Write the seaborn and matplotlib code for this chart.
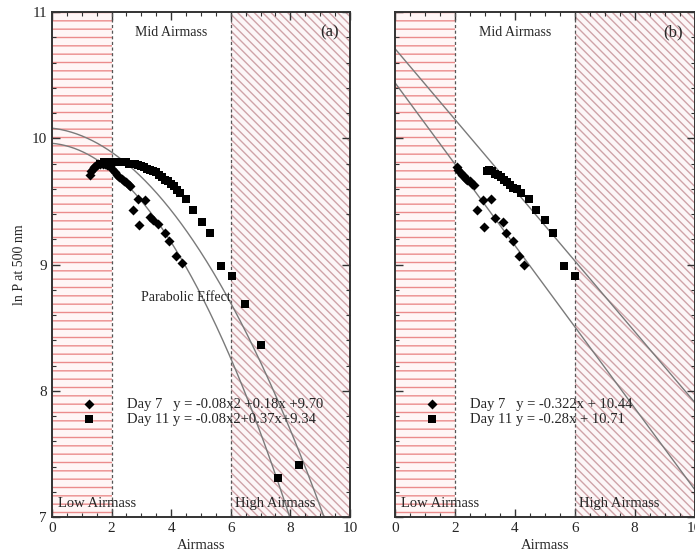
import numpy as np
import pandas as pd
import matplotlib
matplotlib.use("Agg")
import matplotlib.pyplot as plt
import seaborn as sns

# ---------------- data ----------------
# Panel (a): Day 7 (diamonds) and Day 11 (squares)
a_day7_x = [1.28, 1.32, 1.36, 1.40, 1.45, 1.50, 1.56, 1.62, 1.70, 1.78, 1.86, 1.94, 2.02, 2.10,
            2.18, 2.26, 2.34, 2.42, 2.50, 2.58, 2.62, 2.73, 2.90, 2.93, 3.12, 3.29, 3.40, 3.57,
            3.79, 3.94, 4.16, 4.35]
a_day7_y = [9.71, 9.74, 9.76, 9.77, 9.78, 9.79, 9.80, 9.80, 9.80, 9.80, 9.79, 9.78, 9.76, 9.73,
            9.71, 9.69, 9.68, 9.66, 9.65, 9.63, 9.62, 9.43, 9.52, 9.31, 9.51, 9.38, 9.35, 9.32,
            9.25, 9.19, 9.07, 9.01]
a_day11_x = [1.62, 1.75, 1.90, 2.00, 2.10, 2.20, 2.30, 2.40, 2.50, 2.60, 2.70, 2.80, 2.90, 3.00,
             3.10, 3.20, 3.30, 3.40, 3.50, 3.60, 3.70, 3.80, 3.90, 4.00, 4.10, 4.20, 4.30, 4.49,
             4.74, 5.02, 5.30, 5.66, 6.03, 6.48, 7.00, 7.60, 8.30]
a_day11_y = [9.80, 9.81, 9.81, 9.81, 9.81, 9.81, 9.81, 9.81, 9.81, 9.80, 9.80, 9.80, 9.79, 9.78,
             9.77, 9.76, 9.75, 9.74, 9.73, 9.71, 9.69, 9.67, 9.66, 9.64, 9.62, 9.59, 9.57, 9.52,
             9.43, 9.34, 9.25, 8.99, 8.91, 8.69, 8.36, 7.31, 7.41]

# Panel (b): mid-airmass subset
b_day7_x = [2.06, 2.12, 2.18, 2.24, 2.30, 2.36, 2.42, 2.50, 2.58, 2.63, 2.75, 2.95, 2.97, 3.19,
            3.33, 3.60, 3.72, 3.93, 4.13, 4.31]
b_day7_y = [9.77, 9.75, 9.73, 9.71, 9.70, 9.68, 9.67, 9.66, 9.64, 9.63, 9.43, 9.51, 9.30, 9.52,
            9.37, 9.34, 9.25, 9.19, 9.07, 9.00]
b_day11_x = [3.06, 3.15, 3.25, 3.35, 3.45, 3.55, 3.65, 3.75, 3.85, 3.95, 4.07, 4.22, 4.47, 4.72,
             5.00, 5.28, 5.63, 6.02]
b_day11_y = [9.74, 9.75, 9.74, 9.72, 9.71, 9.69, 9.67, 9.65, 9.63, 9.61, 9.60, 9.57, 9.52, 9.43,
             9.35, 9.25, 8.99, 8.91]

# fitted curves (coefficients, highest power first) as drawn
a_fit_day7 = [-0.044, -0.020, 9.96]
a_fit_day11 = [-0.034, -0.027, 10.08]
b_fit_day7 = [-0.322, 10.44]
b_fit_day11 = [-0.28, 10.71]

a_labels = ["Day 7   y = -0.08x2 +0.18x +9.70", "Day 11 y = -0.08x2+0.37x+9.34"]
b_labels = ["Day 7   y = -0.322x + 10.44", "Day 11 y = -0.28x + 10.71"]
panel_tags = ["(a)", "(b)"]
x_ticks = [0, 2, 4, 6, 8, 10]
y_ticks = [7, 8, 9, 10, 11]

# ---------------- style ----------------
sns.set_theme(style="ticks")
plt.rcParams["font.family"] = ["Liberation Serif", "DejaVu Serif"]
plt.rcParams["hatch.linewidth"] = 1.0
plt.rcParams["axes.edgecolor"] = "#333333"

fig = plt.figure(figsize=(6.95, 5.59), dpi=100)
ax_a = fig.add_axes([0.0748, 0.0751, 0.4288, 0.9034])
ax_b = fig.add_axes([0.5683, 0.0751, 0.4310, 0.9034])

xs = np.linspace(0, 10, 400)

def draw_panel(ax, d7x, d7y, d11x, d11y, fit7, fit11, labels, tag, show_y, parabolic):
    ax.axvspan(0, 2, facecolor="#fff6f6", edgecolor="#eb8c8c", hatch="--", lw=0, zorder=0)
    ax.axvspan(6, 10, facecolor="#fcf6f7", edgecolor="#cfa3a8", hatch=r"\\\\", lw=0, zorder=0)
    ax.axvline(2, color="#555555", ls=(0, (2.5, 2)), lw=0.9, zorder=1)
    ax.axvline(6, color="#555555", ls=(0, (2.5, 2)), lw=0.9, zorder=1)

    df7 = pd.DataFrame({"x": xs, "y": np.polyval(fit7, xs)})
    df11 = pd.DataFrame({"x": xs, "y": np.polyval(fit11, xs)})
    sns.lineplot(data=df7, x="x", y="y", ax=ax, color="#7a7a7a", lw=1.0, zorder=2)
    sns.lineplot(data=df11, x="x", y="y", ax=ax, color="#7a7a7a", lw=1.0, zorder=2)

    sns.scatterplot(x=d7x, y=d7y, ax=ax, marker="D", color="black", s=26,
                    edgecolor="black", linewidth=0, label=labels[0], zorder=3)
    sns.scatterplot(x=d11x, y=d11y, ax=ax, marker="s", color="black", s=36,
                    edgecolor="black", linewidth=0, label=labels[1], zorder=3)

    ax.legend(frameon=False, loc="upper left", bbox_to_anchor=(0.08, 0.248),
              borderaxespad=0, handlelength=1.0, handletextpad=2.1,
              labelspacing=0.15, fontsize=10.5, markerscale=1.0)

    ax.set_xlim(0, 10)
    ax.set_ylim(7, 11)
    ax.set_xticks(x_ticks)
    ax.set_yticks(y_ticks)
    ax.set_xticks(np.arange(0, 10.01, 0.5), minor=True)
    ax.set_yticks(np.arange(7, 11.01, 0.2), minor=True)
    ax.tick_params(which="both", direction="in", top=True, right=True, labelsize=11,
                   color="#333333")
    ax.tick_params(which="major", length=6, width=1)
    ax.tick_params(which="minor", length=3, width=0.8)
    for s in ax.spines.values():
        s.set_linewidth(1.4)
    if not show_y:
        ax.set_yticklabels([])
        ax.set_ylabel("")
    else:
        ax.set_ylabel("ln P at 500 nm", fontsize=10)
    ax.set_xlabel("Airmass", fontsize=10.5, labelpad=3)

    ax.text(4.0, 10.84, "Mid Airmass", ha="center", va="center", fontsize=10)
    ax.text(9.3, 10.84, tag, ha="center", va="center", fontsize=12)
    ax.text(0.2, 7.11, "Low Airmass", ha="left", va="center", fontsize=10.5)
    ax.text(6.15, 7.11, "High Airmass", ha="left", va="center", fontsize=10.5)
    if parabolic:
        ax.text(3.0, 8.74, "Parabolic Effect", ha="left", va="center", fontsize=10)

draw_panel(ax_a, a_day7_x, a_day7_y, a_day11_x, a_day11_y, a_fit_day7, a_fit_day11,
           a_labels, panel_tags[0], True, True)
draw_panel(ax_b, b_day7_x, b_day7_y, b_day11_x, b_day11_y, b_fit_day7, b_fit_day11,
           b_labels, panel_tags[1], False, False)

fig.savefig("out.png", dpi=100)
